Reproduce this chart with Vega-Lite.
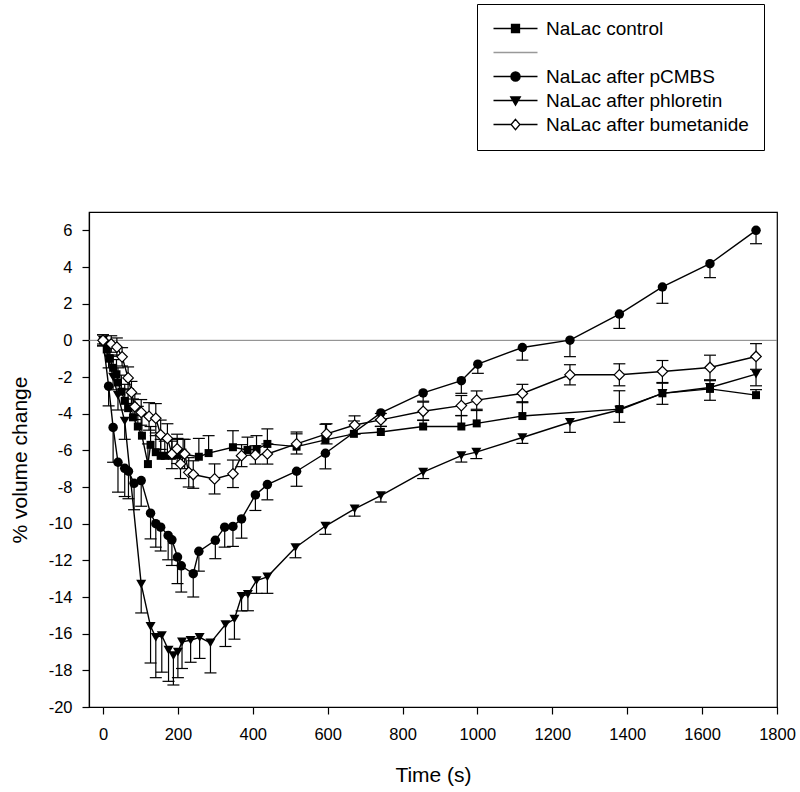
{
  "$schema": "https://vega.github.io/schema/vega-lite/v6.json",
  "autosize": {"type": "none"},
  "padding": {"left": 89, "top": 212, "right": 23, "bottom": 85},
  "width": 688,
  "height": 495,
  "datasets": {
    "obs": [
      {"s":"control","t":0,"v":0,"lo":0,"hi":0.3},
      {"s":"control","t":10,"v":-0.5,"lo":-0.5,"hi":0.0},
      {"s":"control","t":18,"v":-1.0,"lo":-1.0,"hi":-0.4},
      {"s":"control","t":27,"v":-1.5,"lo":-1.5,"hi":-0.8},
      {"s":"control","t":36,"v":-1.85,"lo":-1.85,"hi":-1.05},
      {"s":"control","t":40,"v":-2.3,"lo":-2.3,"hi":-1.5},
      {"s":"control","t":49,"v":-2.8,"lo":-2.8,"hi":-1.9},
      {"s":"control","t":58,"v":-3.3,"lo":-3.3,"hi":-2.4},
      {"s":"control","t":67,"v":-3.7,"lo":-3.7,"hi":-2.7},
      {"s":"control","t":80,"v":-4.2,"lo":-4.2,"hi":-3.2},
      {"s":"control","t":93,"v":-4.7,"lo":-4.7,"hi":-3.6},
      {"s":"control","t":104,"v":-5.2,"lo":-5.2,"hi":-4.1},
      {"s":"control","t":120,"v":-6.75,"lo":-6.75,"hi":-5.65},
      {"s":"control","t":127,"v":-5.7,"lo":-5.7,"hi":-4.7},
      {"s":"control","t":141,"v":-6.1,"lo":-6.1,"hi":-5.2},
      {"s":"control","t":154,"v":-6.3,"lo":-6.3,"hi":-5.4},
      {"s":"control","t":165,"v":-6.3,"lo":-6.3,"hi":-5.5},
      {"s":"control","t":184,"v":-6.3,"lo":-6.3,"hi":-5.5},
      {"s":"control","t":199,"v":-6.25,"lo":-6.25,"hi":-5.35},
      {"s":"control","t":214,"v":-6.2,"lo":-6.2,"hi":-5.4},
      {"s":"control","t":256,"v":-6.35,"lo":-6.35,"hi":-5.35},
      {"s":"control","t":282,"v":-6.15,"lo":-6.15,"hi":-5.2},
      {"s":"control","t":347,"v":-5.83,"lo":-5.83,"hi":-4.93},
      {"s":"control","t":386,"v":-5.98,"lo":-5.98,"hi":-5.28},
      {"s":"control","t":410,"v":-5.93,"lo":-5.93,"hi":-5.2},
      {"s":"control","t":439,"v":-5.65,"lo":-5.65,"hi":-4.83},
      {"s":"control","t":517,"v":-5.8,"lo":-5.8,"hi":-5.0},
      {"s":"control","t":594,"v":-5.43,"lo":-5.43,"hi":-4.58},
      {"s":"control","t":670,"v":-5.1,"lo":-5.1,"hi":-4.4},
      {"s":"control","t":742,"v":-5.0,"lo":-5.0,"hi":-4.7},
      {"s":"control","t":855,"v":-4.7,"lo":-4.7,"hi":-4.35},
      {"s":"control","t":957,"v":-4.7,"lo":-4.7,"hi":-4.1},
      {"s":"control","t":998,"v":-4.53,"lo":-4.53,"hi":-3.83},
      {"s":"control","t":1120,"v":-4.13,"lo":-4.13,"hi":-3.35},
      {"s":"control","t":1379,"v":-3.75,"lo":-3.75,"hi":-2.75},
      {"s":"control","t":1494,"v":-2.89,"lo":-2.89,"hi":-2.34},
      {"s":"control","t":1621,"v":-2.65,"lo":-2.65,"hi":-2.2},
      {"s":"control","t":1744,"v":-2.99,"lo":-2.99,"hi":-2.69},

      {"s":"pCMBS","t":0,"v":0,"lo":-0.3,"hi":0},
      {"s":"pCMBS","t":15,"v":-2.5,"lo":-3.57,"hi":-2.5},
      {"s":"pCMBS","t":27,"v":-4.75,"lo":-6.65,"hi":-4.75},
      {"s":"pCMBS","t":40,"v":-6.65,"lo":-8.28,"hi":-6.65},
      {"s":"pCMBS","t":58,"v":-6.98,"lo":-8.52,"hi":-6.98},
      {"s":"pCMBS","t":68,"v":-7.14,"lo":-8.64,"hi":-7.14},
      {"s":"pCMBS","t":83,"v":-7.8,"lo":-9.24,"hi":-7.8},
      {"s":"pCMBS","t":102,"v":-7.65,"lo":-9.05,"hi":-7.65},
      {"s":"pCMBS","t":127,"v":-9.43,"lo":-10.83,"hi":-9.43},
      {"s":"pCMBS","t":141,"v":-10.0,"lo":-11.28,"hi":-10.0},
      {"s":"pCMBS","t":154,"v":-10.19,"lo":-11.49,"hi":-10.19},
      {"s":"pCMBS","t":174,"v":-10.64,"lo":-11.97,"hi":-10.64},
      {"s":"pCMBS","t":184,"v":-10.88,"lo":-12.28,"hi":-10.88},
      {"s":"pCMBS","t":199,"v":-11.82,"lo":-13.27,"hi":-11.82},
      {"s":"pCMBS","t":209,"v":-12.3,"lo":-13.73,"hi":-12.3},
      {"s":"pCMBS","t":241,"v":-12.73,"lo":-14.0,"hi":-12.73},
      {"s":"pCMBS","t":256,"v":-11.51,"lo":-12.59,"hi":-11.51},
      {"s":"pCMBS","t":300,"v":-10.91,"lo":-11.91,"hi":-10.91},
      {"s":"pCMBS","t":325,"v":-10.19,"lo":-11.28,"hi":-10.19},
      {"s":"pCMBS","t":347,"v":-10.15,"lo":-11.24,"hi":-10.15},
      {"s":"pCMBS","t":370,"v":-9.74,"lo":-10.79,"hi":-9.74},
      {"s":"pCMBS","t":407,"v":-8.43,"lo":-9.28,"hi":-8.43},
      {"s":"pCMBS","t":439,"v":-7.87,"lo":-8.7,"hi":-7.87},
      {"s":"pCMBS","t":517,"v":-7.14,"lo":-7.96,"hi":-7.14},
      {"s":"pCMBS","t":594,"v":-6.16,"lo":-7.01,"hi":-6.16},
      {"s":"pCMBS","t":742,"v":-3.96,"lo":-4.31,"hi":-3.96},
      {"s":"pCMBS","t":855,"v":-2.87,"lo":-3.32,"hi":-2.87},
      {"s":"pCMBS","t":957,"v":-2.2,"lo":-2.89,"hi":-2.2},
      {"s":"pCMBS","t":1001,"v":-1.3,"lo":-1.8,"hi":-1.3},
      {"s":"pCMBS","t":1120,"v":-0.39,"lo":-1.08,"hi":-0.39},
      {"s":"pCMBS","t":1247,"v":0.01,"lo":-0.89,"hi":0.01},
      {"s":"pCMBS","t":1379,"v":1.43,"lo":0.65,"hi":1.43},
      {"s":"pCMBS","t":1494,"v":2.91,"lo":2.02,"hi":2.91},
      {"s":"pCMBS","t":1621,"v":4.18,"lo":3.42,"hi":4.18},
      {"s":"pCMBS","t":1744,"v":6.0,"lo":5.27,"hi":6.0},

      {"s":"phloretin","t":0,"v":0,"lo":-0.2,"hi":0},
      {"s":"phloretin","t":15,"v":-1.0,"lo":-1.5,"hi":-1.0},
      {"s":"phloretin","t":27,"v":-2.0,"lo":-2.7,"hi":-2.0},
      {"s":"phloretin","t":40,"v":-3.0,"lo":-3.8,"hi":-3.0},
      {"s":"phloretin","t":58,"v":-4.4,"lo":-5.4,"hi":-4.4},
      {"s":"phloretin","t":102,"v":-13.3,"lo":-14.87,"hi":-13.3},
      {"s":"phloretin","t":127,"v":-15.6,"lo":-17.6,"hi":-15.6},
      {"s":"phloretin","t":141,"v":-16.2,"lo":-18.4,"hi":-16.2},
      {"s":"phloretin","t":157,"v":-16.1,"lo":-18.1,"hi":-16.1},
      {"s":"phloretin","t":175,"v":-16.9,"lo":-18.6,"hi":-16.9},
      {"s":"phloretin","t":188,"v":-17.2,"lo":-18.8,"hi":-17.2},
      {"s":"phloretin","t":200,"v":-17.0,"lo":-18.4,"hi":-17.0},
      {"s":"phloretin","t":211,"v":-16.45,"lo":-17.9,"hi":-16.45},
      {"s":"phloretin","t":234,"v":-16.36,"lo":-17.56,"hi":-16.36},
      {"s":"phloretin","t":258,"v":-16.2,"lo":-17.35,"hi":-16.2},
      {"s":"phloretin","t":287,"v":-16.5,"lo":-18.14,"hi":-16.5},
      {"s":"phloretin","t":327,"v":-15.5,"lo":-16.7,"hi":-15.5},
      {"s":"phloretin","t":351,"v":-15.2,"lo":-16.3,"hi":-15.2},
      {"s":"phloretin","t":370,"v":-13.96,"lo":-14.76,"hi":-13.96},
      {"s":"phloretin","t":387,"v":-13.85,"lo":-14.75,"hi":-13.85},
      {"s":"phloretin","t":410,"v":-13.1,"lo":-13.8,"hi":-13.1},
      {"s":"phloretin","t":439,"v":-12.9,"lo":-13.8,"hi":-12.9},
      {"s":"phloretin","t":514,"v":-11.3,"lo":-11.86,"hi":-11.3},
      {"s":"phloretin","t":594,"v":-10.13,"lo":-10.58,"hi":-10.13},
      {"s":"phloretin","t":672,"v":-9.19,"lo":-9.59,"hi":-9.19},
      {"s":"phloretin","t":742,"v":-8.47,"lo":-8.82,"hi":-8.47},
      {"s":"phloretin","t":855,"v":-7.19,"lo":-7.54,"hi":-7.19},
      {"s":"phloretin","t":957,"v":-6.29,"lo":-6.64,"hi":-6.29},
      {"s":"phloretin","t":997,"v":-6.1,"lo":-6.45,"hi":-6.1},
      {"s":"phloretin","t":1120,"v":-5.3,"lo":-5.62,"hi":-5.3},
      {"s":"phloretin","t":1247,"v":-4.47,"lo":-5.02,"hi":-4.47},
      {"s":"phloretin","t":1379,"v":-3.8,"lo":-4.47,"hi":-3.8},
      {"s":"phloretin","t":1494,"v":-2.89,"lo":-3.49,"hi":-2.89},
      {"s":"phloretin","t":1621,"v":-2.57,"lo":-3.27,"hi":-2.57},
      {"s":"phloretin","t":1744,"v":-1.84,"lo":-2.48,"hi":-1.84},

      {"s":"bumetanide","t":0,"v":0,"lo":-0.3,"hi":0.3},
      {"s":"bumetanide","t":22,"v":-0.2,"lo":-0.65,"hi":0.25},
      {"s":"bumetanide","t":37,"v":-0.37,"lo":-0.87,"hi":0.13},
      {"s":"bumetanide","t":51,"v":-0.9,"lo":-1.4,"hi":-0.4},
      {"s":"bumetanide","t":67,"v":-2.05,"lo":-2.65,"hi":-1.45},
      {"s":"bumetanide","t":76,"v":-2.84,"lo":-3.44,"hi":-2.24},
      {"s":"bumetanide","t":85,"v":-3.62,"lo":-4.32,"hi":-2.92},
      {"s":"bumetanide","t":102,"v":-3.93,"lo":-4.63,"hi":-3.23},
      {"s":"bumetanide","t":123,"v":-4.15,"lo":-4.9,"hi":-3.4},
      {"s":"bumetanide","t":141,"v":-4.25,"lo":-5.05,"hi":-3.45},
      {"s":"bumetanide","t":154,"v":-5.15,"lo":-5.95,"hi":-4.35},
      {"s":"bumetanide","t":172,"v":-5.35,"lo":-6.15,"hi":-4.55},
      {"s":"bumetanide","t":184,"v":-6.2,"lo":-7.0,"hi":-5.4},
      {"s":"bumetanide","t":198,"v":-5.92,"lo":-6.72,"hi":-5.12},
      {"s":"bumetanide","t":207,"v":-6.74,"lo":-7.54,"hi":-5.94},
      {"s":"bumetanide","t":218,"v":-6.2,"lo":-7.0,"hi":-5.4},
      {"s":"bumetanide","t":229,"v":-7.2,"lo":-8.0,"hi":-6.4},
      {"s":"bumetanide","t":241,"v":-7.32,"lo":-8.07,"hi":-6.57},
      {"s":"bumetanide","t":298,"v":-7.56,"lo":-8.38,"hi":-6.74},
      {"s":"bumetanide","t":347,"v":-7.28,"lo":-8.03,"hi":-6.53},
      {"s":"bumetanide","t":370,"v":-6.29,"lo":-6.89,"hi":-5.69},
      {"s":"bumetanide","t":407,"v":-6.25,"lo":-6.75,"hi":-5.75},
      {"s":"bumetanide","t":439,"v":-6.2,"lo":-6.75,"hi":-5.65},
      {"s":"bumetanide","t":517,"v":-5.65,"lo":-6.2,"hi":-5.1},
      {"s":"bumetanide","t":597,"v":-5.1,"lo":-5.65,"hi":-4.55},
      {"s":"bumetanide","t":672,"v":-4.62,"lo":-5.12,"hi":-4.12},
      {"s":"bumetanide","t":742,"v":-4.34,"lo":-4.69,"hi":-3.99},
      {"s":"bumetanide","t":855,"v":-3.87,"lo":-4.37,"hi":-3.37},
      {"s":"bumetanide","t":957,"v":-3.56,"lo":-4.11,"hi":-3.01},
      {"s":"bumetanide","t":998,"v":-3.26,"lo":-3.76,"hi":-2.76},
      {"s":"bumetanide","t":1120,"v":-2.9,"lo":-3.4,"hi":-2.4},
      {"s":"bumetanide","t":1247,"v":-1.88,"lo":-2.43,"hi":-1.33},
      {"s":"bumetanide","t":1379,"v":-1.88,"lo":-2.48,"hi":-1.28},
      {"s":"bumetanide","t":1494,"v":-1.7,"lo":-2.3,"hi":-1.1},
      {"s":"bumetanide","t":1621,"v":-1.48,"lo":-2.15,"hi":-0.81},
      {"s":"bumetanide","t":1744,"v":-0.88,"lo":-1.58,"hi":-0.18}
    ],
    "legendRows": [
      {"series": "NaLac control"},
      {"series": "zero"},
      {"series": "NaLac after pCMBS"},
      {"series": "NaLac after phloretin"},
      {"series": "NaLac after bumetanide"}
    ],
    "zeroLine": [{"level": 0}]
  },
  "config": {
    "font": "Liberation Sans",
    "view": {"stroke": "black", "strokeWidth": 1.2},
    "axis": {
      "domainColor": "black", "domainWidth": 1.2,
      "tickColor": "black", "tickWidth": 1.2, "tickSize": 7,
      "labelColor": "black", "titleColor": "black",
      "labelFont": "Liberation Sans", "titleFont": "Liberation Sans",
      "labelFontSize": 16.5, "titleFontSize": 21, "titleFontWeight": "normal",
      "labelOverlap": false,
      "grid": false
    }
  },
  "layer": [
    {
      "data": {"name": "zeroLine"},
      "mark": {"type": "rule", "color": "#808080", "strokeWidth": 1},
      "encoding": {
        "y": {"field": "level", "type": "quantitative"}
      }
    },
    {
      "data": {"name": "obs"},
      "mark": {"type": "rule", "color": "black", "strokeWidth": 1.2},
      "encoding": {
        "x": {"field": "t", "type": "quantitative"},
        "y": {"field": "lo", "type": "quantitative"},
        "y2": {"field": "hi"}
      }
    },
    {
      "data": {"name": "obs"},
      "transform": [{"filter": {"field": "s", "oneOf": ["pCMBS", "phloretin", "bumetanide"]}}],
      "mark": {"type": "tick", "orient": "horizontal", "size": 12, "thickness": 1.2, "color": "black", "opacity": 1},
      "encoding": {
        "x": {"field": "t", "type": "quantitative"},
        "y": {"field": "lo", "type": "quantitative"}
      }
    },
    {
      "data": {"name": "obs"},
      "transform": [{"filter": {"field": "s", "oneOf": ["control", "bumetanide"]}}],
      "mark": {"type": "tick", "orient": "horizontal", "size": 12, "thickness": 1.2, "color": "black", "opacity": 1},
      "encoding": {
        "x": {"field": "t", "type": "quantitative"},
        "y": {"field": "hi", "type": "quantitative"}
      }
    },
    {
      "data": {"name": "obs"},
      "mark": {"type": "line", "color": "black", "strokeWidth": 1.4},
      "encoding": {
        "x": {
          "field": "t", "type": "quantitative",
          "scale": {"domain": [-37.4, 1800], "nice": false, "zero": false},
          "axis": {
            "title": "Time (s)",
            "values": [0, 200, 400, 600, 800, 1000, 1200, 1400, 1600, 1800],
            "format": "d",
            "labelPadding": 12,
            "titlePadding": 22,
            "labelFlush": false,
            "labelOverlap": false
          }
        },
        "y": {
          "field": "v", "type": "quantitative",
          "scale": {"domain": [-20, 7], "nice": false, "zero": false},
          "axis": {
            "title": "% volume change",
            "values": [-20, -18, -16, -14, -12, -10, -8, -6, -4, -2, 0, 2, 4, 6],
            "tickCount": 14,
            "labelExpr": "datum.value < 0 ? '-' + abs(datum.value) : '' + datum.value",
            "labelPadding": 10,
            "titlePadding": 18,
            "labelFlush": false,
            "labelOverlap": false,
            "labelBound": false
          }
        },
        "detail": {"field": "s", "type": "nominal"}
      }
    },
    {
      "data": {"name": "obs"},
      "transform": [{"filter": {"field": "s", "equal": "control"}}],
      "mark": {"type": "square", "filled": true, "color": "black", "size": 64, "opacity": 1},
      "encoding": {
        "x": {"field": "t", "type": "quantitative"},
        "y": {"field": "v", "type": "quantitative"}
      }
    },
    {
      "data": {"name": "obs"},
      "transform": [{"filter": {"field": "s", "equal": "pCMBS"}}],
      "mark": {"type": "circle", "color": "black", "size": 90, "opacity": 1},
      "encoding": {
        "x": {"field": "t", "type": "quantitative"},
        "y": {"field": "v", "type": "quantitative"}
      }
    },
    {
      "data": {"name": "obs"},
      "transform": [{"filter": {"field": "s", "equal": "phloretin"}}],
      "mark": {"type": "point", "shape": "triangle-down", "filled": true, "color": "black", "size": 100, "opacity": 1},
      "encoding": {
        "x": {"field": "t", "type": "quantitative"},
        "y": {"field": "v", "type": "quantitative"}
      }
    },
    {
      "data": {"name": "obs"},
      "transform": [{"filter": {"field": "s", "equal": "bumetanide"}}],
      "mark": {"type": "point", "shape": "diamond", "filled": true, "fill": "white", "stroke": "black", "strokeWidth": 1.2, "size": 110, "opacity": 1},
      "encoding": {
        "x": {"field": "t", "type": "quantitative"},
        "y": {"field": "v", "type": "quantitative"}
      }
    },
    {
      "data": {"name": "legendRows"},
      "mark": {"type": "point", "filled": true, "opacity": 0, "size": 64},
      "encoding": {
        "shape": {
          "field": "series", "type": "nominal",
          "scale": {
            "domain": ["NaLac control", "zero", "NaLac after pCMBS", "NaLac after phloretin", "NaLac after bumetanide"],
            "range": [
              "M-5.5,0H5.5M-1,-1H1V1H-1Z",
              "M-5.5,0H5.5",
              "M-5.5,0H5.5M-1.15,0A1.15,1.15,0,1,1,1.15,0A1.15,1.15,0,1,1,-1.15,0Z",
              "M-5.5,0H5.5M-1.2,-0.9H1.2L0,1.2Z",
              "M-5.5,0H-1.1M1.1,0H5.5M0,-1.3L1.1,0L0,1.3L-1.1,0Z"
            ]
          },
          "legend": {
            "orient": "none", "legendX": 388, "legendY": -208,
            "title": null, "padding": 15,
            "strokeColor": "black", "fillColor": "white",
            "labelFont": "Liberation Sans", "labelFontSize": 19, "labelColor": "black",
            "symbolSize": 64, "symbolStrokeWidth": 1.3, "symbolOpacity": 1,
            "symbolOffset": 14, "labelOffset": 21, "rowPadding": 4,
            "labelLimit": 400,
            "labelExpr": "datum.label == 'zero' ? '\u00a0' : datum.label"
          }
        },
        "stroke": {
          "field": "series", "type": "nominal",
          "scale": {
            "domain": ["NaLac control", "zero", "NaLac after pCMBS", "NaLac after phloretin", "NaLac after bumetanide"],
            "range": ["black", "#999999", "black", "black", "black"]
          },
          "legend": {
            "orient": "none", "legendX": 388, "legendY": -208,
            "title": null, "padding": 15,
            "strokeColor": "black", "fillColor": "white",
            "labelFont": "Liberation Sans", "labelFontSize": 19, "labelColor": "black",
            "symbolSize": 64, "symbolStrokeWidth": 1.3, "symbolOpacity": 1,
            "symbolOffset": 14, "labelOffset": 21, "rowPadding": 4,
            "labelLimit": 400,
            "labelExpr": "datum.label == 'zero' ? '\u00a0' : datum.label"
          }
        },
        "fill": {
          "field": "series", "type": "nominal",
          "scale": {
            "domain": ["NaLac control", "zero", "NaLac after pCMBS", "NaLac after phloretin", "NaLac after bumetanide"],
            "range": ["black", "transparent", "black", "black", "white"]
          },
          "legend": {
            "orient": "none", "legendX": 388, "legendY": -208,
            "title": null, "padding": 15,
            "strokeColor": "black", "fillColor": "white",
            "labelFont": "Liberation Sans", "labelFontSize": 19, "labelColor": "black",
            "symbolSize": 64, "symbolStrokeWidth": 1.3, "symbolOpacity": 1,
            "symbolOffset": 14, "labelOffset": 21, "rowPadding": 4,
            "labelLimit": 400,
            "labelExpr": "datum.label == 'zero' ? '\u00a0' : datum.label"
          }
        }
      }
    }
  ]
}
